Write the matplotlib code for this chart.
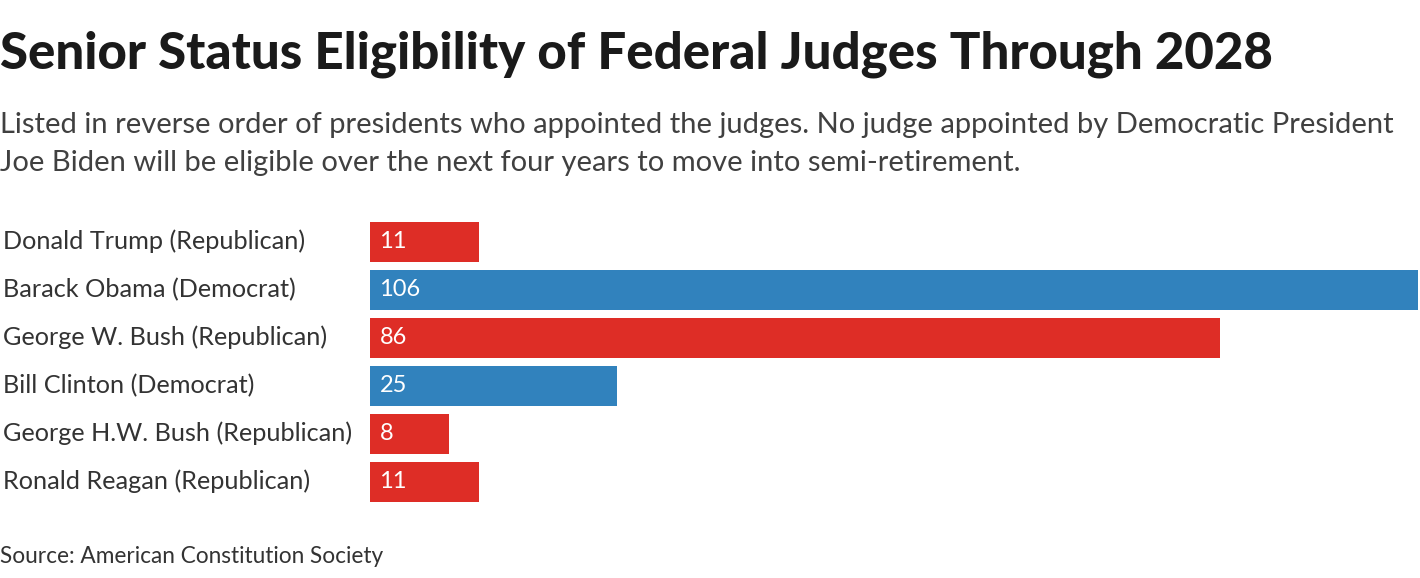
import numpy as np
import matplotlib.pyplot as plt

plt.rcParams['font.family'] = ['Lato', 'DejaVu Sans']

presidents = ['Donald Trump (Republican)', 'Barack Obama (Democrat)',
              'George W. Bush (Republican)', 'Bill Clinton (Democrat)',
              'George H.W. Bush (Republican)', 'Ronald Reagan (Republican)']
judges = [11, 106, 86, 25, 8, 11]
party = ['R', 'D', 'R', 'D', 'R', 'R']

colors = {'R': '#de2d26', 'D': '#3182bd'}

W, H = 14.2, 5.78
fig = plt.figure(figsize=(W, H), dpi=100)
ax = fig.add_axes([0.2606, 0.1254, 0.738, 0.498])

y = np.arange(len(presidents))
ax.barh(y, judges, height=0.833, color=[colors[p] for p in party])
for i, v in enumerate(judges):
    ax.text(0.95, i, str(v), color='white', fontsize=17, va='center', ha='left')

ax.set_xlim(0, 106)
ax.set_ylim(5.5, -0.5)
ax.set_xticks([])
ax.set_yticks([])
for s in ax.spines.values():
    s.set_visible(False)

# president names sit at the left edge of the figure
for i, name in enumerate(presidents):
    yy = ax.transData.transform((0, i))[1] / fig.dpi / H
    fig.text(0.002, yy, name, fontsize=18.2, color='#333333', va='center', ha='left')

def ypix(p):
    return 1 - p / 578

fig.text(0.0, ypix(68), 'Senior Status Eligibility of Federal Judges Through 2028',
         fontsize=36.7, fontweight='black', color='#1a1a1a', ha='left', va='baseline')
fig.text(0.0, ypix(133), 'Listed in reverse order of presidents who appointed the judges. No judge appointed by Democratic President',
         fontsize=21, color='#404040', ha='left', va='baseline')
fig.text(0.0, ypix(171), 'Joe Biden will be eligible over the next four years to move into semi-retirement.',
         fontsize=21, color='#404040', ha='left', va='baseline')
fig.text(0.0, ypix(563), 'Source: American Constitution Society', fontsize=16.3,
         color='#333333', ha='left', va='baseline')

plt.savefig('out.png', dpi=100)
